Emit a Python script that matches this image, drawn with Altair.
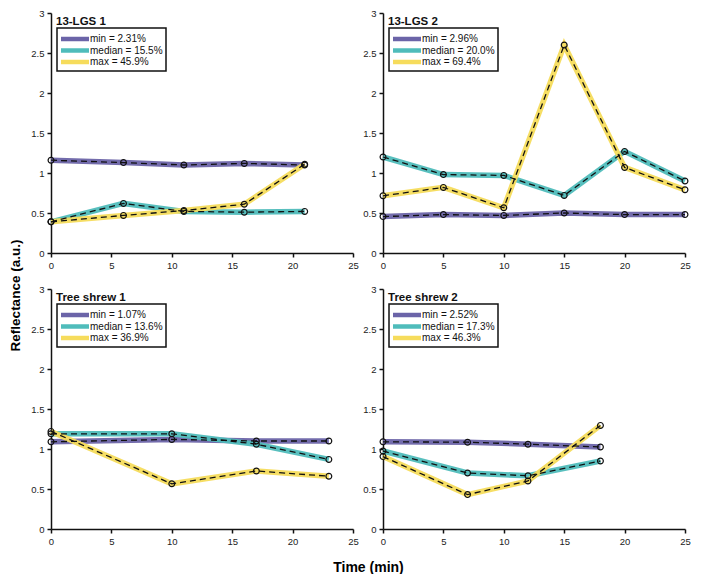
import altair as alt
import pandas as pd

# ---------------- data ----------------
panel_names = ["13-LGS 1", "13-LGS 2", "Tree shrew 1", "Tree shrew 2"]
series_names = ["min", "median", "max"]
series_colors = ["#6b64a8", "#4fbcbb", "#f6dc5c"]

times_1 = [0, 6, 11, 16, 21]
min_1 = [1.16, 1.13, 1.10, 1.12, 1.10]
median_1 = [0.39, 0.62, 0.52, 0.51, 0.52]
max_1 = [0.39, 0.47, 0.53, 0.61, 1.11]
pct_1 = ["2.31%", "15.5%", "45.9%"]

times_2 = [0, 5, 10, 15, 20, 25]
min_2 = [0.455, 0.48, 0.47, 0.50, 0.48, 0.48]
median_2 = [1.20, 0.98, 0.97, 0.72, 1.27, 0.90]
max_2 = [0.715, 0.82, 0.565, 2.60, 1.07, 0.79]
pct_2 = ["2.96%", "20.0%", "69.4%"]

times_3 = [0, 10, 17, 23]
min_3 = [1.09, 1.12, 1.10, 1.10]
median_3 = [1.19, 1.19, 1.06, 0.87]
max_3 = [1.22, 0.565, 0.725, 0.66]
pct_3 = ["1.07%", "13.6%", "36.9%"]

times_4 = [0, 7, 12, 18]
min_4 = [1.09, 1.085, 1.06, 1.025]
median_4 = [0.975, 0.70, 0.665, 0.85]
max_4 = [0.905, 0.43, 0.60, 1.295]
pct_4 = ["2.52%", "17.3%", "46.3%"]

x_ticks = [0, 5, 10, 15, 20, 25]
y_ticks = [0, 0.5, 1, 1.5, 2, 2.5, 3]

panel_data = [
    (times_1, [min_1, median_1, max_1], pct_1),
    (times_2, [min_2, median_2, max_2], pct_2),
    (times_3, [min_3, median_3, max_3], pct_3),
    (times_4, [min_4, median_4, max_4], pct_4),
]

# ---------------- layout ----------------
W, H = 302, 240
GAP_X, GAP_Y = 30, 36
FONT = "Liberation Sans"


def make_panel(idx):
    times, vals, pcts = panel_data[idx]
    rows = []
    for s, v in zip(series_names, vals):
        for t, y in zip(times, v):
            rows.append({"time": t, "value": y, "series": s})
    df = pd.DataFrame(rows)

    show_ytitle = idx == 0
    show_xtitle = idx == 2

    if show_xtitle:
        x_axis = alt.Axis(
            values=x_ticks, format="d", grid=False, labelFlush=False,
            title="Time (min)", titleX=W + GAP_X / 2, titleY=38, titleAlign="center",
            titleBaseline="middle", titleFontSize=14, titleFontWeight="bold",
            titleFont=FONT,
        )
    else:
        x_axis = alt.Axis(values=x_ticks, format="d", grid=False,
                          labelFlush=False, title=None)
    if show_ytitle:
        y_axis = alt.Axis(
            values=y_ticks, format="~g", grid=False,
            title="Reflectance (a.u.)", titleX=-36, titleY=282,
            titleAngle=270, titleAlign="center", titleBaseline="middle",
            titleFontSize=13.5, titleFontWeight="bold", titleFont=FONT,
        )
    else:
        y_axis = alt.Axis(values=y_ticks, format="~g", grid=False, title=None)

    base = alt.Chart(df).encode(
        x=alt.X("time:Q", scale=alt.Scale(domain=[0, 25], nice=False), axis=x_axis),
        y=alt.Y("value:Q", scale=alt.Scale(domain=[0, 3], nice=False), axis=y_axis),
    )
    thick = base.mark_line(strokeWidth=5.5, opacity=0.95).encode(
        color=alt.Color("series:N", scale=alt.Scale(domain=series_names, range=series_colors),
                        legend=None),
        detail="series:N",
    )
    dashed = base.mark_line(color="#111111", strokeWidth=1.3, strokeDash=[6, 4]).encode(
        detail="series:N"
    )
    pts = base.mark_point(shape="circle", size=34, filled=False, color="#111111",
                          strokeWidth=1.2, opacity=1).encode(detail="series:N")

    one = pd.DataFrame({"k": [0]})
    title = alt.Chart(one).mark_text(
        text=panel_names[idx], font=FONT, fontSize=11.5, fontWeight="bold",
        align="left", baseline="middle", color="#111111",
    ).encode(x=alt.value(5), y=alt.value(9))
    box = alt.Chart(one).mark_rect(fill="white", stroke="#111111", strokeWidth=1.5).encode(
        x=alt.value(6), x2=alt.value(115), y=alt.value(15), y2=alt.value(58)
    )
    legend_layers = []
    for j, (s, c, p) in enumerate(zip(series_names, series_colors, pcts)):
        yy = 26 + j * 11.5
        legend_layers.append(
            alt.Chart(one).mark_rule(color=c, strokeWidth=4.5).encode(
                x=alt.value(10), x2=alt.value(38), y=alt.value(yy)
            )
        )
        legend_layers.append(
            alt.Chart(one).mark_text(
                text=f"{s} = {p}", font=FONT, fontSize=10, align="left",
                baseline="middle", color="#111111",
            ).encode(x=alt.value(39), y=alt.value(yy))
        )

    return alt.layer(thick, dashed, pts, box, *legend_layers, title).properties(
        width=W, height=H
    )


panels = [make_panel(i) for i in range(4)]

chart = alt.concat(
    *panels, columns=2, spacing={"row": GAP_Y, "column": GAP_X}, bounds="flush"
).properties(
    padding=0
).configure_view(
    stroke=None
).configure_axis(
    domainColor="#111111", domainWidth=1.5, tickColor="#111111", tickWidth=1.5,
    tickSize=4, labelFont=FONT, labelFontSize=9.5, labelColor="#222222",
    labelPadding=3,
)

chart.save("out.html", embed_options={"renderer": "svg", "actions": False})
